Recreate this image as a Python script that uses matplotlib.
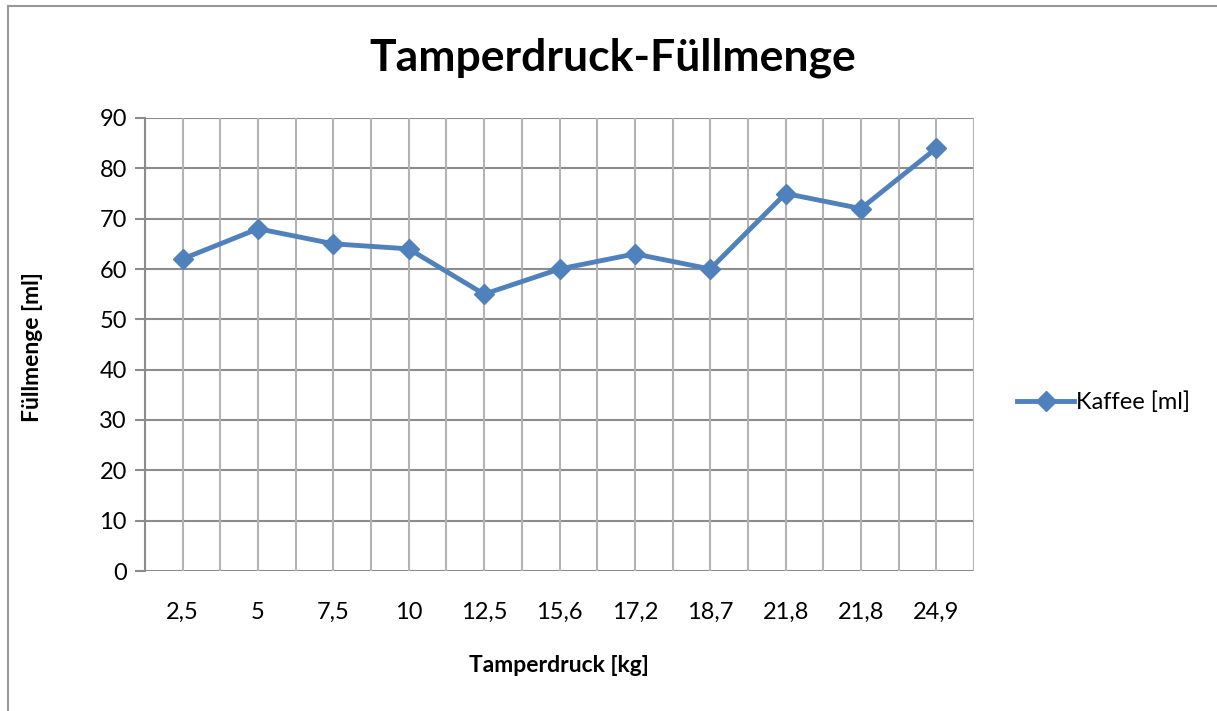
import matplotlib.pyplot as plt
from matplotlib.lines import Line2D
import numpy as np

# data
druck_labels = ['2,5', '5', '7,5', '10', '12,5', '15,6', '17,2', '18,7', '21,8', '21,8', '24,9']
kaffee_ml = [62, 68, 65, 64, 55, 60, 63, 60, 75, 72, 84]
y_ticks = [0, 10, 20, 30, 40, 50, 60, 70, 80, 90]

blue = '#4F81BD'
grid_col = '#B3B3B3'
axis_col = '#8C8C8C'

plt.rcParams['font.family'] = ['Lato', 'DejaVu Sans']

fig = plt.figure(figsize=(12.17, 7.11), dpi=100)
ax = fig.add_axes([145 / 1217, 1 - 571 / 711, (974 - 145) / 1217, (571 - 118) / 711])

x = np.arange(len(druck_labels))

# grid: horizontal at the ticks, vertical every half category
for yv in y_ticks:
    ax.axhline(yv, color=axis_col, lw=1.5, zorder=1)
for xv in np.arange(-0.5, len(druck_labels), 0.5):
    ax.axvline(xv, color=grid_col, lw=1.5, zorder=1)

ax.plot(x, kaffee_ml, color=blue, lw=3.5, marker='D', markersize=10,
        markerfacecolor=blue, markeredgecolor=blue, zorder=3, solid_capstyle='round')

ax.set_xlim(-0.5, len(druck_labels) - 0.5)
ax.set_ylim(0, 90)
ax.set_xticks(x)
ax.set_xticklabels(druck_labels)
ax.set_yticks(y_ticks)
ax.tick_params(axis='x', length=0, labelsize=17, pad=22)
ax.tick_params(axis='y', length=7, width=1.5, color=axis_col, labelsize=17, pad=6)
for s in ax.spines.values():
    s.set_visible(False)
ax.spines['left'].set_visible(True)
ax.spines['left'].set_color(axis_col)
ax.spines['left'].set_linewidth(1.5)

fig.text(613 / 1217, 1 - 58 / 711, 'Tamperdruck-Füllmenge', ha='center', va='center',
         fontsize=32, fontweight='bold')
fig.text(559 / 1217, 1 - 666 / 711, 'Tamperdruck [kg]', ha='center', va='center',
         fontsize=16.5, fontweight='bold')
fig.text(33 / 1217, 1 - 347 / 711, 'Füllmenge [ml]', ha='center', va='center',
         fontsize=16.5, fontweight='bold', rotation=90)

# legend
handle = Line2D([], [], color=blue, lw=3.5, marker='D', markersize=10)
leg = fig.legend([handle], ['Kaffee [ml]'], loc='center left',
                 bbox_to_anchor=(996 / 1217, 1 - 402 / 711), frameon=False,
                 fontsize=17, handlelength=2.4, handletextpad=0.1)

# outer chart border (left and top)
fig.add_artist(Line2D([8 / 1217, 8 / 1217], [0, 1 - 6 / 711], transform=fig.transFigure,
                      color='#999999', lw=1.5))
fig.add_artist(Line2D([8 / 1217, 1], [1 - 6 / 711, 1 - 6 / 711], transform=fig.transFigure,
                      color='#999999', lw=1.5))

fig.savefig('out.png', dpi=100)
